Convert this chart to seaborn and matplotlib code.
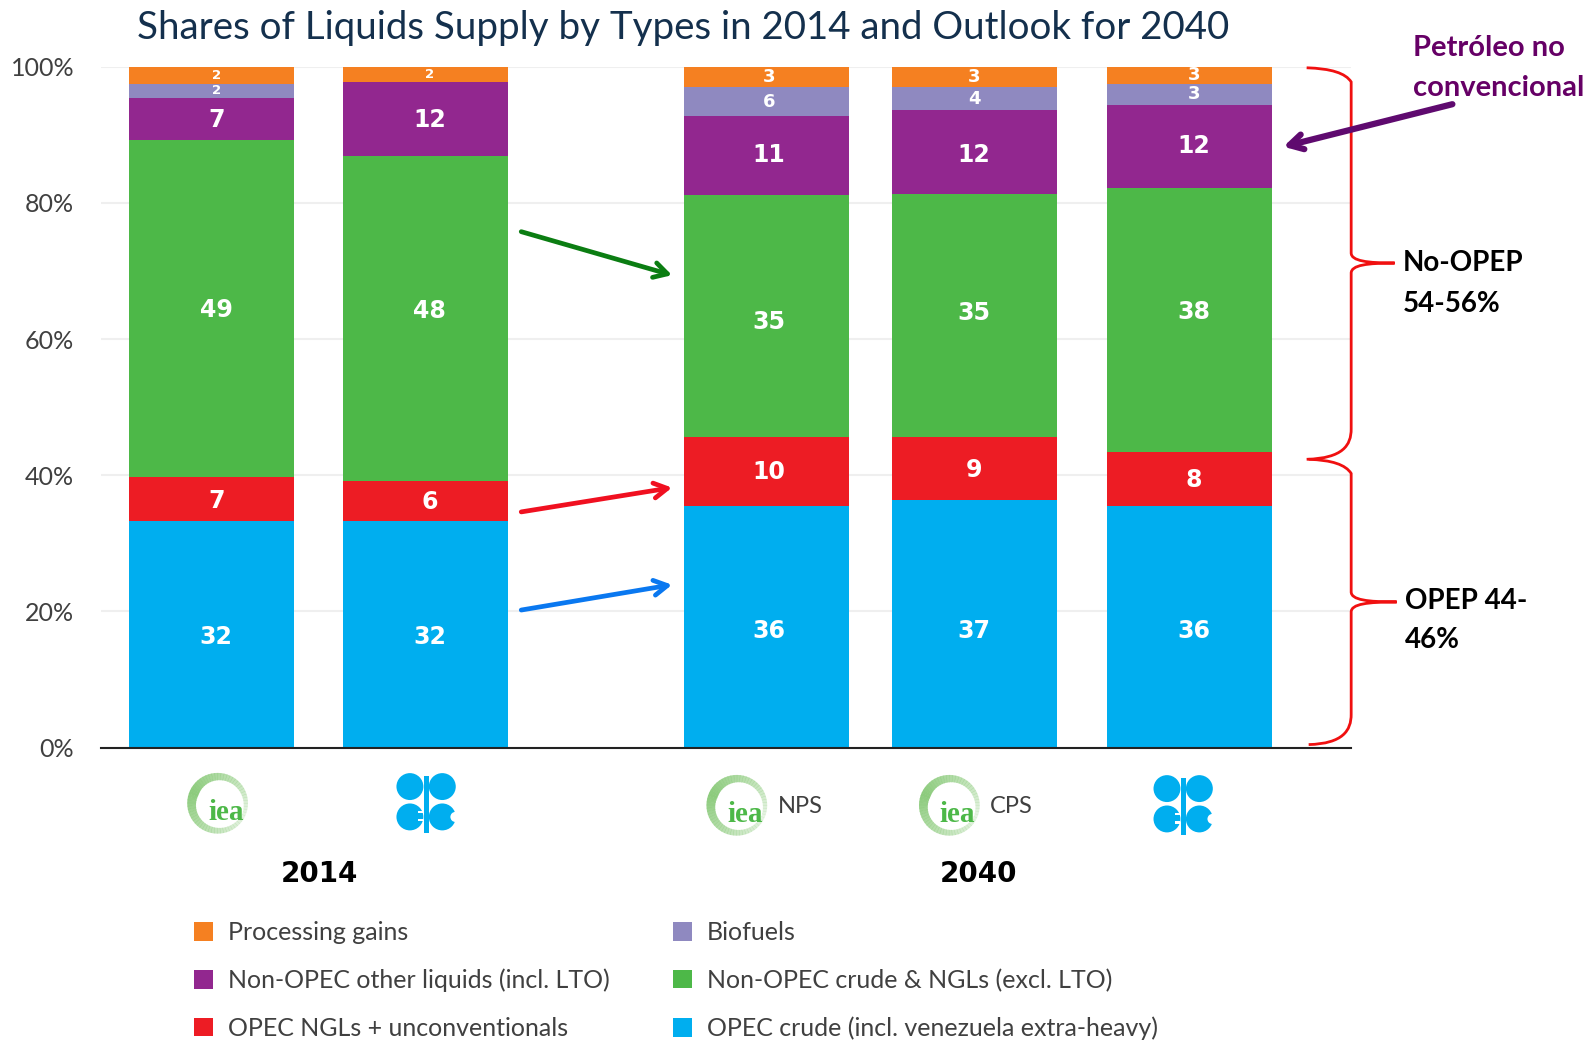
import matplotlib
matplotlib.use('Agg')
import matplotlib.pyplot as plt
import seaborn as sns
import pandas as pd
from matplotlib.patches import Circle, Wedge, Rectangle, PathPatch
from matplotlib.path import Path

# segment sizes as drawn, in %, bottom to top
series_names = ['OPEC crude (incl. venezuela extra-heavy)', 'OPEC NGLs + unconventionals',
                'Non-OPEC crude & NGLs (excl. LTO)', 'Non-OPEC other liquids (incl. LTO)',
                'Biofuels', 'Processing gains']
opec_crude = [33.3, 33.3, 35.5, 36.3, 35.5]
opec_ngl = [6.4, 5.8, 10.1, 9.3, 7.9]
nonopec_crude = [49.6, 47.8, 35.5, 35.7, 38.8]
nonopec_other = [6.1, 10.9, 11.6, 12.3, 12.2]
biofuels = [2.1, 0, 4.3, 3.4, 3.1]
gains = [2.5, 2.2, 3.0, 3.0, 2.5]

# printed labels (rounded numbers, not the same as the segment sizes)
lab_opec_crude = [32, 32, 36, 37, 36]
lab_opec_ngl = [7, 6, 10, 9, 8]
lab_nonopec_crude = [49, 48, 35, 35, 38]
lab_nonopec_other = [7, 12, 11, 12, 12]
lab_biofuels = [2, None, 6, 4, 3]
lab_gains = [2, 2, 3, 3, 3]

bar_pos = [208.6, 420.3, 757, 962.5, 1175.5]
colors = ['#00aeef', '#ed1c24', '#4db848', '#92278f', '#8f89c0', '#f58021']
ticks = [0, 20, 40, 60, 80, 100]
tick_labels = ['0%', '20%', '40%', '60%', '80%', '100%']

values = [opec_crude, opec_ngl, nonopec_crude, nonopec_other, biofuels, gains]
labels = [lab_opec_crude, lab_opec_ngl, lab_nonopec_crude, lab_nonopec_other, lab_biofuels, lab_gains]
# labels in the source are not quite centred in their segments
label_dy = {0: [-3, -3, -4, -7, -4], 1: [-2, -1, 0, -1, -1], 2: [-2, 8, -6, 3, 8], 3: [-1, -1, 1, -3, 0],
            4: [0, 0, 0, 0, 0], 5: [0, 0, 0, 0, 0]}
label_dx = [5, 4, 3, 0, 4]

sns.set_theme(style='white')
plt.rcParams['font.family'] = ['Lato', 'DejaVu Sans']

W, H = 1568.0, 1028.0
fig = plt.figure(figsize=(15.87, 10.40), dpi=100)

# main axes, pixel-ish x units of the shrunk picture
left, right, top, bottom = 100, 1335, 66, 739
ax = fig.add_axes([left / W, 1 - bottom / H, (right - left) / W, (bottom - top) / H])
ax.set_axisbelow(True)
ax.yaxis.grid(True, color='#efefef', lw=1.5)

running = [0] * 5
for name, vals, col in zip(series_names, values, colors):
    df = pd.DataFrame({'x': bar_pos, 'share': vals})
    sns.barplot(data=df, x='x', y='share', native_scale=True, width=163 / 205.5, color=col,
                saturation=1, bottom=running, label=name, ax=ax, legend=False, linewidth=0)
    running = [a + b for a, b in zip(running, vals)]

ax.set_xlim(left, right)
ax.set_ylim(0, 100)
ax.set_xlabel('')
ax.set_ylabel('')
ax.set_xticks([])
ax.set_yticks(ticks)
ax.set_yticklabels(tick_labels, fontsize=18, color='#404040', family='Lato')
ax.tick_params(axis='y', length=0, pad=19.5)
sns.despine(ax=ax, left=True, top=True, right=True)
ax.spines['bottom'].set_color('#222222')
ax.spines['bottom'].set_linewidth(1.5)

# value labels in the middle of every segment
running = [0] * 5
for s, (vals, labs) in enumerate(zip(values, labels)):
    for i, v in enumerate(vals):
        if labs[i] is not None:
            size = 17
            if v < 5:
                size = 13
            if labs[i] == 2:
                size = 9.5
            ax.annotate(str(labs[i]), xy=(bar_pos[i], running[i] + v / 2), xytext=(label_dx[i], label_dy[s][i]),
                        textcoords='offset pixels', ha='center', va='center', color='white',
                        fontweight='bold', family='DejaVu Sans', fontsize=size)
    running = [a + b for a, b in zip(running, vals)]

# legend
h, l = ax.get_legend_handles_labels()
by_name = dict(zip(l, h))
order = ['Processing gains', 'Non-OPEC other liquids (incl. LTO)', 'OPEC NGLs + unconventionals',
         'Biofuels', 'Non-OPEC crude & NGLs (excl. LTO)', 'OPEC crude (incl. venezuela extra-heavy)']
fig.legend([by_name[n] for n in order], order, ncol=2, loc='upper left',
           bbox_to_anchor=(192 / W, 1 - 910.5 / H), frameon=False, prop={'family': 'Lato', 'size': 18},
           labelcolor='#404040', handlelength=0.76, handleheight=0.76, handletextpad=0.58,
           labelspacing=0.98, columnspacing=2.55, borderpad=0, borderaxespad=0)

# overlay for everything outside the plot, same units as the main x axis
ov = fig.add_axes([0, 0, 1, 1], facecolor='none')
ov.set_xlim(0, W)
ov.set_ylim(H, 0)
ov.axis('off')

ov.text(675, 28, 'Shares of Liquids Supply by Types in 2014 and Outlook for 2040', ha='center', va='center',
        fontsize=27.7, color='#14304d')


def iea_logo(cx, cy):
    for a in range(0, 360, 6):
        # ring fades out towards the right
        d = min(abs(a - 20), 360 - abs(a - 20)) / 180
        ov.add_patch(Wedge((cx, cy), 30, a, a + 7, width=3.5 + 6 * d, color='#8ccb7c', alpha=0.2 + 0.8 * d, lw=0))
    ov.text(cx + 8, cy + 9, 'iea', ha='center', va='center', color='#4db848', fontsize=21,
            fontweight='bold', family='Liberation Serif')


def opec_logo(cx, cy):
    blue = '#00aeef'
    for dx, dy in [(-16, -17.5), (16, -17.5), (-16, 12.5), (16, 12.5)]:
        ov.add_patch(Circle((cx + dx, cy + dy), 13.3, color=blue, lw=0))
    ov.add_patch(Rectangle((cx - 2.5, cy - 28), 5, 56, color=blue, lw=0, zorder=3))
    # bite of the C, teeth of the E
    ov.add_patch(Circle((cx + 29, cy + 12.5), 5, color='white', lw=0, zorder=3))
    ov.add_patch(Rectangle((cx - 8, cy + 7), 5, 2, color='white', lw=0, zorder=3))
    ov.add_patch(Rectangle((cx - 8, cy + 15), 5, 2, color='white', lw=0, zorder=3))


iea_logo(215, 794)
opec_logo(421, 795)
iea_logo(728, 796)
iea_logo(938, 796)
opec_logo(1169, 797)

ov.text(769, 797, 'NPS', va='center', fontsize=17, color='#404040')
ov.text(978, 797, 'CPS', va='center', fontsize=17, color='#404040')
ov.text(316, 864, '2014', ha='center', va='center', fontsize=20, fontweight='bold', color='black', family='DejaVu Sans')
ov.text(967, 864, '2040', ha='center', va='center', fontsize=20, fontweight='bold', color='black', family='DejaVu Sans')

# arrows between the 2014 and 2040 bars
for start, end, col, width in [((515, 229), (664, 272), '#0b7d12', 3.4),
                               ((515, 506), (664, 482), '#f01020', 3.4),
                               ((515, 603), (664, 578), '#0a78f0', 3.4),
                               ((1435, 103), (1268, 145), '#5f0a6f', 4.5)]:
    ov.annotate('', xy=end, xytext=start,
                arrowprops=dict(arrowstyle='->,head_length=0.8,head_width=0.45', color=col, lw=width,
                                shrinkA=0, shrinkB=0))


def brace(x0, x1, tip, y0, y1, ym):
    verts = [(x0, y0), (x1 - 8, y0 + 1), (x1, y0 + 14), (x1, y0 + 30),
             (x1, ym - 10), (x1, ym - 2), (x1 + 16, ym), (tip, ym),
             (x1 + 16, ym), (x1, ym + 2), (x1, ym + 10),
             (x1, y1 - 30), (x1, y1 - 14), (x1 - 8, y1 - 1), (x0, y1)]
    codes = [Path.MOVETO, Path.CURVE3, Path.CURVE3, Path.LINETO,
             Path.LINETO, Path.CURVE4, Path.CURVE4, Path.CURVE4,
             Path.CURVE4, Path.CURVE4, Path.CURVE4,
             Path.LINETO, Path.CURVE4, Path.CURVE4, Path.CURVE4]
    ov.add_patch(PathPatch(Path(verts, codes), fc='none', ec='#f01010', lw=2))


brace(1291, 1335, 1378, 67, 454, 260)
brace(1293, 1335, 1380, 454, 736, 595)

ov.text(1396, 47, 'Petróleo no', va='center', fontsize=21, fontweight='bold', color='#660066')
ov.text(1396, 87, 'convencional', va='center', fontsize=21, fontweight='bold', color='#660066')
ov.text(1386, 260, 'No-OPEP', va='center', fontsize=20, fontweight='bold', color='black')
ov.text(1386, 300, '54-56%', va='center', fontsize=20, fontweight='bold', color='black')
ov.text(1388, 594, 'OPEP 44-', va='center', fontsize=20, fontweight='bold', color='black')
ov.text(1388, 633, '46%', va='center', fontsize=20, fontweight='bold', color='black')

plt.savefig('out.png', dpi=100)
